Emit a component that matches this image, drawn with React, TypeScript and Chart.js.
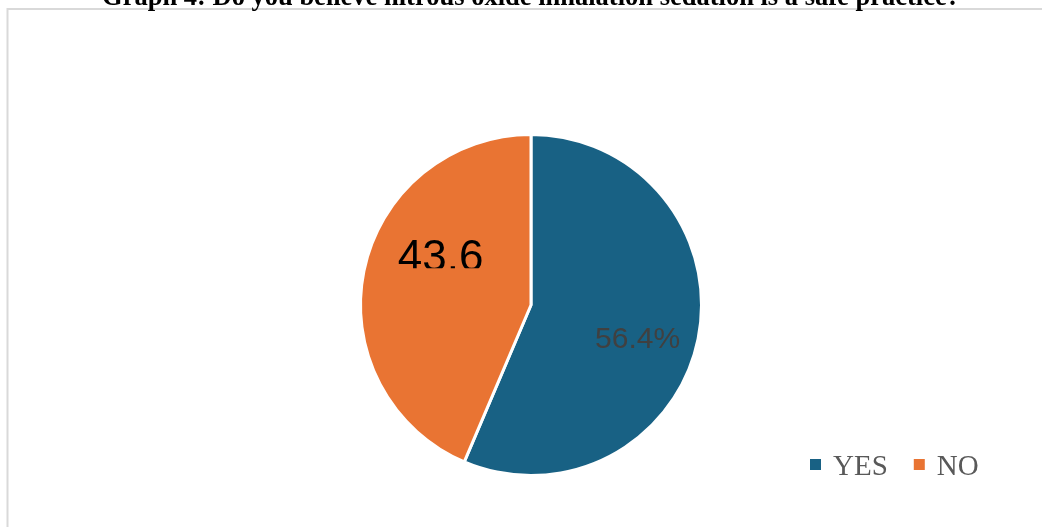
import React, { useEffect, useRef } from "react";
import { Chart, registerables } from "chart.js";

Chart.register(...registerables);

const TITLE = "Graph 4: Do you believe nitrous oxide inhalation sedation is a safe practice?";
const categories = ["YES", "NO"];
const values = [56.4, 43.6];
const valueLabels = ["56.4%", "43.6"];
const colors = ["#186184", "#E97433"];

const W = 1042;
const H = 527;

const framePlugin = {
  id: "frame",
  beforeDraw(chart: any) {
    const ctx = chart.ctx;
    ctx.save();
    ctx.fillStyle = "#ffffff";
    ctx.fillRect(0, 0, chart.width, chart.height);
    ctx.strokeStyle = "#d9d9d9";
    ctx.lineWidth = 2;
    ctx.strokeRect(7.5, 9, chart.width + 20, chart.height + 20);
    ctx.restore();
  },
  afterDraw(chart: any) {
    const ctx = chart.ctx;
    ctx.save();
    // title (cut off at top)
    ctx.fillStyle = "#000000";
    ctx.font = "bold 26.5px 'Liberation Serif', 'Times New Roman', serif";
    ctx.textAlign = "center";
    ctx.textBaseline = "alphabetic";
    ctx.fillText(TITLE, 531, 4.5);

    const meta = chart.getDatasetMeta(0);
    const arc0 = meta.data[0];
    const cx = arc0.x;
    const cy = arc0.y;
    const r = arc0.outerRadius;

    // value labels
    const labelPos = [
      { fx: 0.625, fy: 0.253, font: "30px 'Liberation Sans', Arial, sans-serif", color: "#404040", clip: null },
      { fx: -0.53, fy: -0.2, font: "44px 'Liberation Sans', Arial, sans-serif", color: "#000000", clip: -0.216 },
    ];
    valueLabels.forEach((txt, i) => {
      const p = labelPos[i];
      const x = cx + r * p.fx;
      const y = cy + r * p.fy;
      ctx.save();
      if (p.clip !== null) {
        ctx.beginPath();
        ctx.rect(0, 0, chart.width, cy + r * p.clip);
        ctx.clip();
      }
      ctx.font = p.font;
      ctx.fillStyle = p.color;
      ctx.textAlign = "center";
      ctx.textBaseline = "alphabetic";
      ctx.fillText(txt, x, y);
      ctx.restore();
    });

    // legend
    ctx.font = "29px 'Liberation Serif', 'Times New Roman', serif";
    ctx.textAlign = "left";
    ctx.textBaseline = "alphabetic";
    let lx = 810;
    const baseY = 475;
    categories.forEach((c, i) => {
      ctx.fillStyle = colors[i];
      ctx.fillRect(lx, 459, 11, 11);
      ctx.fillStyle = "#595959";
      ctx.fillText(c, lx + 23, baseY);
      lx += 23 + ctx.measureText(c).width + 26;
    });
    ctx.restore();
  },
};

export default function App() {
  const ref = useRef<HTMLCanvasElement | null>(null);
  useEffect(() => {
    if (!ref.current) return;
    const chart = new Chart(ref.current, {
      type: "pie",
      data: {
        labels: categories,
        datasets: [
          {
            data: values,
            backgroundColor: colors,
            borderColor: "#ffffff",
            borderWidth: 3,
          },
        ],
      },
      options: {
        animation: false,
        responsive: false,
        layout: { padding: { top: 133, bottom: 50, left: 359, right: 339 } },
        plugins: {
          legend: { display: false },
          title: { display: false },
          tooltip: { enabled: false },
        },
      },
      plugins: [framePlugin],
    });
    return () => chart.destroy();
  }, []);
  return (
    <div style={{ position: "fixed", left: 0, top: 0, width: W, height: H, background: "#fff" }}>
      <canvas ref={ref} width={W} height={H} style={{ display: "block", width: W, height: H }} />
    </div>
  );
}
